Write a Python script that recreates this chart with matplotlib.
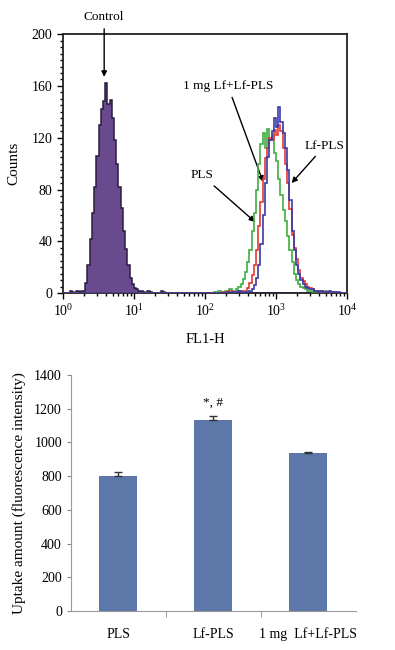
import numpy as np
import matplotlib
matplotlib.use("Agg")
import matplotlib.pyplot as plt
from matplotlib.ticker import MultipleLocator, LogLocator, NullFormatter

plt.rcParams['font.family'] = 'serif'
plt.rcParams['font.serif'] = ['Liberation Serif', 'DejaVu Serif']
plt.rcParams['mathtext.fontset'] = 'stix'

# flow cytometry histograms, 128 channels over 4 decades (FL1-H)
n_channels = 128
decades = 4

# control: counts from channel 3 upward
control_start = 3
control_counts = [2, 1, 0, 2, 1, 2, 2, 8, 22, 42, 62, 82, 106, 130, 142, 148, 162, 146,
                  149, 135, 118, 100, 82, 66, 48, 34, 22, 12, 7, 4, 3, 2, 2, 1, 0, 2,
                  1, 0, 0, 0, 0, 2, 1]

# PLS (green)
pls_start = 68
pls_counts = [1, 0, 2, 1, 1, 2, 0, 3, 1, 2, 3, 5, 7, 11, 16, 24, 33, 48, 62, 80, 100,
              115, 124, 112, 127, 118, 122, 108, 102, 88, 76, 64, 56, 44, 33, 24, 15,
              10, 7, 5, 4, 3, 2, 2, 1, 2, 1, 1, 0, 1, 2, 1, 0, 1]

# 1 mg Lf+Lf-PLS (red)
lf1mg_start = 72
lf1mg_counts = [1, 0, 1, 2, 1, 0, 1, 2, 1, 2, 2, 4, 8, 14, 22, 33, 52, 70, 88, 104, 112,
                120, 118, 126, 122, 130, 125, 112, 100, 85, 65, 45, 35, 26, 18, 12, 9,
                7, 5, 4, 3, 2, 2, 1, 2, 1, 0, 1, 1, 0, 1]

# Lf-PLS (blue)
lfpls_start = 74
lfpls_counts = [1, 0, 1, 0, 1, 2, 1, 0, 1, 1, 2, 3, 6, 12, 22, 38, 60, 85, 105, 118, 125,
                135, 128, 144, 132, 124, 112, 95, 72, 48, 33, 22, 15, 10, 7, 5, 4, 3,
                3, 2, 2, 1, 2, 1, 1, 1, 2, 1, 0, 1, 1]

# uptake bar chart
groups = ['PLS', 'Lf-PLS', '1 mg  Lf+Lf-PLS']
uptake = [800, 1133, 935]
uptake_err = [25, 25, 8]


def full_hist(start, counts):
    h = np.zeros(n_channels)
    h[start:start + len(counts)] = counts
    return h


edges = np.logspace(0, decades, n_channels + 1)

fig = plt.figure(figsize=(3.95, 6.5), dpi=100)

# ---- top: histogram overlay ----
ax = fig.add_axes([0.1595, 0.549, 0.719, 0.3985])

ax.stairs(full_hist(control_start, control_counts), edges, fill=True,
          color='#6a4a8e', zorder=2)
ax.stairs(full_hist(control_start, control_counts), edges, color='#2b1d3d',
          lw=1.1, zorder=3)
ax.stairs(full_hist(pls_start, pls_counts), edges, color='#3fae3f', lw=1.2, zorder=4)
ax.stairs(full_hist(lf1mg_start, lf1mg_counts), edges, color='#e53a30', lw=1.2, zorder=5)
ax.stairs(full_hist(lfpls_start, lfpls_counts), edges, color='#3b3aa6', lw=1.2, zorder=6)

ax.set_xscale('log')
ax.set_xlim(1, 1e4)
ax.set_ylim(0, 200)
ax.yaxis.set_major_locator(MultipleLocator(40))
ax.yaxis.set_minor_locator(MultipleLocator(5))
ax.xaxis.set_major_locator(LogLocator(base=10, numticks=10))
ax.xaxis.set_minor_locator(LogLocator(base=10, subs=np.arange(2, 10), numticks=20))
ax.xaxis.set_minor_formatter(NullFormatter())
ax.tick_params(which='both', direction='out', labelsize=10, width=1)
ax.tick_params(which='major', length=4)
ax.tick_params(which='minor', length=2.5)
for s in ax.spines.values():
    s.set_linewidth(1.3)
    s.set_color('#222222')

ax.set_ylabel('Counts', fontsize=11, labelpad=8)
ax.set_xlabel('FL1-H', fontsize=10.5, labelpad=10)

arrow = dict(arrowstyle='-|>', color='k', lw=1.0, mutation_scale=8,
             shrinkA=2, shrinkB=0)
ax.annotate('Control', xy=(3.8, 167), xytext=(3.8, 213), ha='center', va='center',
            fontsize=9.5, arrowprops=arrow, annotation_clip=False)
ax.annotate('1 mg Lf+Lf-PLS', xy=(656, 86), xytext=(210, 160), ha='center',
            va='center', fontsize=9.5, arrowprops=arrow)
ax.annotate('Lf-PLS', xy=(1660, 85), xytext=(4900, 114), ha='center', va='center',
            fontsize=9.5, arrowprops=arrow)
ax.annotate('PLS', xy=(506, 55), xytext=(91, 91), ha='center', va='center',
            fontsize=9.5, arrowprops=arrow)

# ---- bottom: uptake bars ----
bx = fig.add_axes([0.1797, 0.06, 0.7215, 0.363])
pos = np.arange(len(groups))
bx.bar(pos, uptake, width=0.4, color='#5d77a8', zorder=2)
bx.errorbar(pos, uptake, yerr=[np.zeros(len(uptake)), uptake_err], fmt='none',
            ecolor='#333333', elinewidth=1, capsize=3, capthick=1, zorder=3)
bx.text(pos[1], uptake[1] + uptake_err[1] + 45, '*, #', ha='center', va='bottom',
        fontsize=9.5)

bx.set_xlim(-0.5, 2.5)
bx.set_ylim(0, 1400)
bx.yaxis.set_major_locator(MultipleLocator(200))
bx.set_xticks(pos)
bx.set_xticklabels(groups, fontsize=10)
bx.set_xticks([0.5, 1.5], minor=True)
bx.tick_params(axis='x', which='major', length=0, pad=12)
bx.tick_params(axis='x', which='minor', length=4, color='#888888')
bx.tick_params(axis='y', labelsize=10, length=3, color='#888888')
for side in ['top', 'right']:
    bx.spines[side].set_visible(False)
for side in ['left', 'bottom']:
    bx.spines[side].set_color('#999999')
    bx.spines[side].set_linewidth(0.8)
bx.set_ylabel('Uptake amount (fluorescence intensity)', fontsize=11, labelpad=6)

fig.savefig('out.png', dpi=100)
